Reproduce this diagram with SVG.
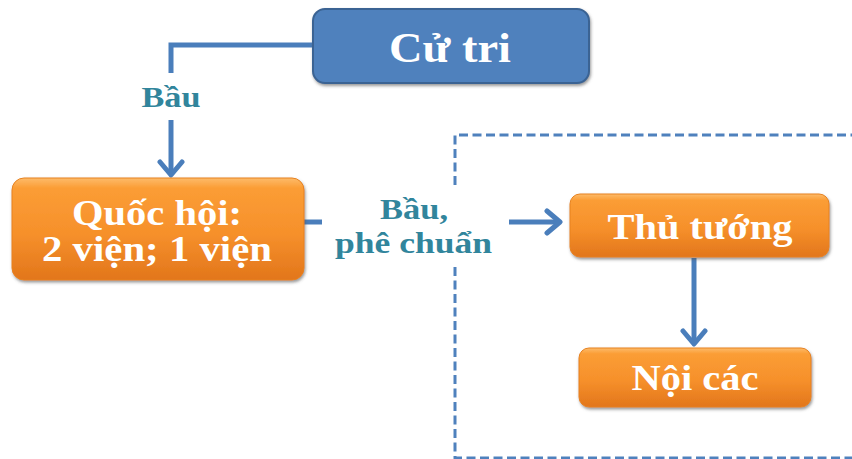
<svg xmlns="http://www.w3.org/2000/svg" width="852" height="459" viewBox="0 0 852 459">
<defs>
<linearGradient id="og" x1="0" y1="0" x2="0" y2="1">
<stop offset="0" stop-color="#fdbb6a"/>
<stop offset="0.1" stop-color="#fb9d35"/>
<stop offset="0.55" stop-color="#f6902b"/>
<stop offset="1" stop-color="#e2761b"/>
</linearGradient>
<filter id="sh" x="-10%" y="-10%" width="120%" height="130%">
<feDropShadow dx="1" dy="2" stdDeviation="1.5" flood-color="#555" flood-opacity="0.6"/>
</filter>
<marker id="arr" viewBox="0 0 22 28" refX="17" refY="14" markerWidth="22" markerHeight="28" markerUnits="userSpaceOnUse" orient="auto">
<path d="M4,3 L17,14 L4,25" fill="none" stroke="#4a7ebb" stroke-width="5" stroke-linecap="round" stroke-linejoin="round"/>
</marker>
</defs>
<style>
.orange{fill:url(#og);stroke:#e7821f;stroke-width:1;filter:url(#sh)}
.blue{fill:#4f81bd;stroke:#3a6393;stroke-width:2;filter:url(#sh)}
.nt{font-family:"Liberation Serif","Times New Roman",serif;font-weight:bold;fill:#ffffff;text-anchor:middle}
.lb{font-family:"Liberation Serif","Times New Roman",serif;font-weight:bold;fill:#31859c;text-anchor:middle}
.cn{fill:none;stroke:#4a7ebb;stroke-width:5}
.dash{fill:none;stroke:#4f81bd;stroke-width:3;stroke-dasharray:9 4.5}
</style>
<rect width="852" height="459" fill="#ffffff"/>
<g id="boundary">
<path class="dash" d="M455,185 V135 H860"/>
<path class="dash" d="M455,267 V458 H860"/>
</g>
<g id="connectors">
<path class="cn" d="M313,45 H171 V73"/>
<path class="cn" d="M171,120 V175" marker-end="url(#arr)"/>
<path class="cn" d="M304,222 H322"/>
<path class="cn" d="M509,222 H560" marker-end="url(#arr)"/>
<path class="cn" d="M694,258 V344" marker-end="url(#arr)"/>
</g>
<g id="label-bau">
<text class="lb" x="171" y="107" font-size="29" textLength="59" lengthAdjust="spacingAndGlyphs">Bầu</text>
</g>
<g id="label-bau-phechuan">
<text class="lb" x="414" y="219" font-size="30" textLength="68" lengthAdjust="spacingAndGlyphs">Bầu,</text>
<text class="lb" x="413.5" y="253" font-size="30" textLength="157" lengthAdjust="spacingAndGlyphs">phê chuẩn</text>
</g>
<g id="cu-tri">
<rect class="blue" x="313" y="9" width="276" height="74" rx="12"/>
<text class="nt" x="450" y="62" font-size="42" textLength="122" lengthAdjust="spacingAndGlyphs">Cử tri</text>
</g>
<g id="quoc-hoi">
<rect class="orange" x="12" y="178" width="292" height="102" rx="12"/>
<text class="nt" x="157" y="225" font-size="35" textLength="170" lengthAdjust="spacingAndGlyphs">Quốc hội:</text>
<text class="nt" x="157" y="261" font-size="35" textLength="230" lengthAdjust="spacingAndGlyphs">2 viện; 1 viện</text>
</g>
<g id="thu-tuong">
<rect class="orange" x="570" y="194" width="259" height="63" rx="10"/>
<text class="nt" x="700" y="239" font-size="35" textLength="185" lengthAdjust="spacingAndGlyphs">Thủ tướng</text>
</g>
<g id="noi-cac">
<rect class="orange" x="579" y="348" width="232" height="59" rx="10"/>
<text class="nt" x="695" y="390" font-size="35" textLength="127" lengthAdjust="spacingAndGlyphs">Nội các</text>
</g>
</svg>
